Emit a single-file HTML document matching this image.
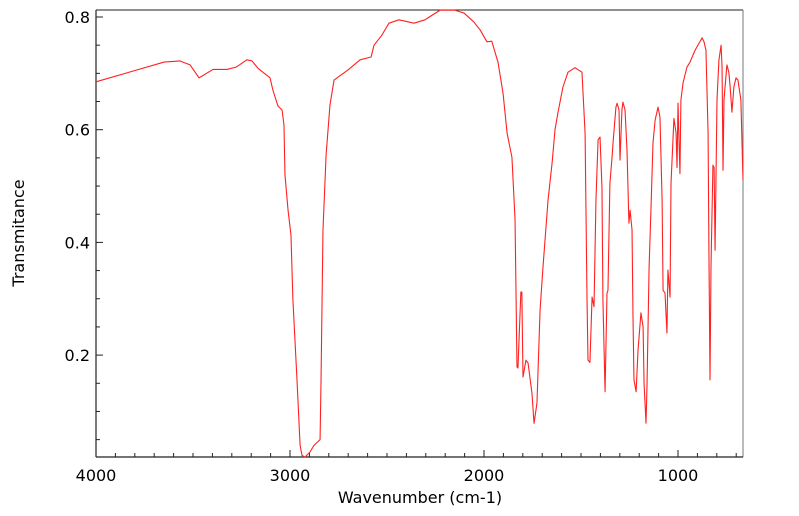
<!DOCTYPE html>
<html><head><meta charset="utf-8"><style>
html,body{margin:0;padding:0;background:#fff;}
svg{display:block;font-family:"DejaVu Sans","Liberation Sans",sans-serif;}
</style></head><body>
<svg id="chart" width="799" height="516" viewBox="0 0 799 516" xmlns="http://www.w3.org/2000/svg"></svg>
<script>
const wavenumbers = [4000,3799,3649,3567,3515,3469,3397,3325,3278,3222,3196,3165,3103,3088,3062,3041,3031,3026,3010,2995,2985,2964,2948,2938,2923,2897,2876,2845,2840,2830,2814,2794,2773,2701,2639,2582,2567,2526,2490,2438,2361,2304,2273,2227,2149,2103,2052,2020,1985,1960,1928,1902,1881,1856,1840,1830,1825,1810,1805,1799,1784,1773,1753,1742,1727,1711,1696,1670,1649,1634,1619,1593,1567,1531,1495,1479,1469,1464,1454,1443,1433,1423,1412,1402,1392,1387,1376,1366,1361,1351,1340,1335,1320,1314,1304,1299,1289,1284,1273,1263,1253,1247,1237,1232,1227,1216,1206,1191,1180,1175,1165,1160,1149,1139,1129,1118,1103,1093,1082,1077,1067,1057,1052,1041,1036,1026,1021,1010,1005,1000,990,985,974,954,938,912,876,866,856,845,840,835,830,820,814,809,799,789,778,773,768,763,748,738,732,722,712,701,691,676,665];
const transmittance = [0.685,0.705,0.72,0.722,0.715,0.692,0.707,0.707,0.711,0.724,0.722,0.709,0.692,0.67,0.642,0.635,0.608,0.52,0.457,0.413,0.298,0.156,0.04,0.022,0.019,0.028,0.04,0.05,0.156,0.422,0.555,0.644,0.688,0.706,0.724,0.729,0.75,0.768,0.789,0.795,0.789,0.795,0.802,0.812,0.812,0.807,0.791,0.777,0.756,0.757,0.72,0.665,0.594,0.551,0.44,0.179,0.177,0.312,0.312,0.161,0.191,0.186,0.133,0.079,0.115,0.28,0.356,0.475,0.541,0.6,0.63,0.676,0.702,0.71,0.702,0.594,0.298,0.191,0.187,0.303,0.286,0.475,0.582,0.587,0.498,0.298,0.135,0.31,0.315,0.505,0.551,0.576,0.64,0.647,0.635,0.546,0.635,0.649,0.635,0.564,0.434,0.457,0.422,0.268,0.156,0.135,0.209,0.275,0.25,0.15,0.079,0.143,0.356,0.463,0.576,0.617,0.64,0.622,0.475,0.315,0.31,0.239,0.351,0.303,0.505,0.582,0.62,0.594,0.533,0.647,0.522,0.653,0.683,0.711,0.72,0.741,0.763,0.756,0.741,0.594,0.356,0.156,0.356,0.537,0.533,0.386,0.653,0.724,0.75,0.711,0.528,0.653,0.715,0.702,0.679,0.631,0.676,0.692,0.688,0.653,0.511];
const xTicks = [4000,3000,2000,1000];
const yTicks = [0.2,0.4,0.6,0.8];

const NS = "http://www.w3.org/2000/svg";
const svg = document.getElementById('chart');
const L=96,R=743,T=10,B=457;
function xs(w){return L+(4000-w)*(R-L)/(4000-665);}
function ys(v){return 17+(0.8-v)*563.5;}
function mk(tag,attrs,parent){const e=document.createElementNS(NS,tag);for(const k in attrs)e.setAttribute(k,attrs[k]);(parent||svg).appendChild(e);return e;}

let f;
f=mk('line',{x1:L,y1:T,x2:R,y2:T,stroke:'#222','stroke-width':1});


f=mk('line',{x1:R,y1:T,x2:R,y2:B,stroke:'#777','stroke-width':1});


f=mk('line',{x1:L,y1:T,x2:L,y2:B,stroke:'#222','stroke-width':1.2});


f=mk('line',{x1:L,y1:B,x2:R,y2:B,stroke:'#222','stroke-width':1.2});



for(let w=4000; w>=700; w-=100){
  const major = w%1000===0;
  const t=mk('line',{x1:xs(w),x2:xs(w),y1:B,y2:B-(major?7:4),stroke:'#222','stroke-width':1});
  
  
}
xTicks.forEach(w=>{
  const t=mk('text',{x:xs(w),y:481,'text-anchor':'middle','font-size':16,fill:'#000'});
  t.textContent=String(w);
  
  
});
for(let i=1;i<=16;i++){
  const v=i*0.05;
  const major = i%4===0;
  const t=mk('line',{x1:L,x2:L+(major?7:4),y1:ys(v),y2:ys(v),stroke:'#222','stroke-width':1});
  
  
}
yTicks.forEach(v=>{
  const t=mk('text',{x:90,y:ys(v)+6,'text-anchor':'end','font-size':16,fill:'#000'});
  t.textContent=v.toFixed(1);
  
  
});
let xt=mk('text',{x:420,y:503,'text-anchor':'middle','font-size':16,fill:'#000'});
xt.textContent='Wavenumber (cm-1)';


let yt=mk('text',{x:0,y:0,transform:'translate(24,233) rotate(-90)','text-anchor':'middle','font-size':16,fill:'#000'});
yt.textContent='Transmitance';



const d=wavenumbers.map((w,i)=>(i?'L':'M')+xs(w).toFixed(2)+','+ys(transmittance[i]).toFixed(2)).join(' ');
const p=mk('path',{d:d,fill:'none',stroke:'#ff2020','stroke-width':1.1,'stroke-linejoin':'round'});


</script>
</body></html>
